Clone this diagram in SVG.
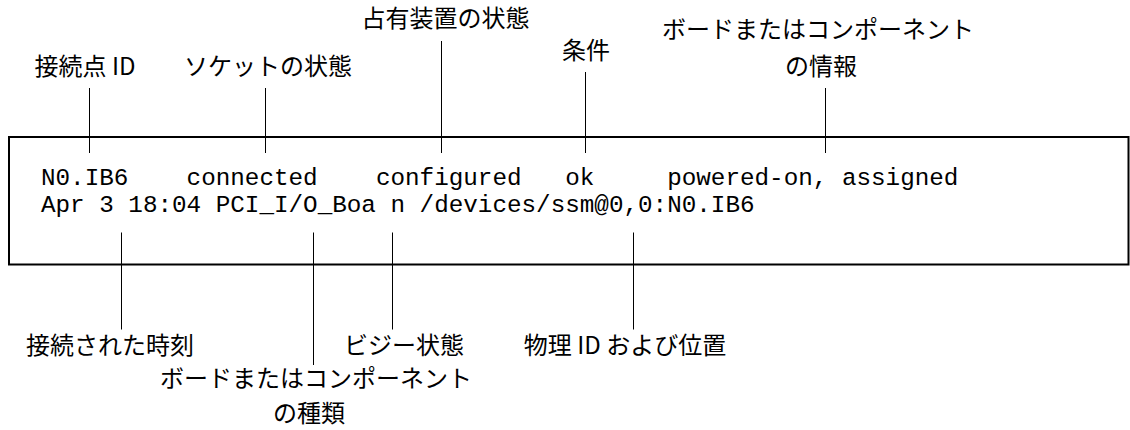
<svg xmlns="http://www.w3.org/2000/svg" width="1130" height="430" viewBox="0 0 1130 430">
<style>
.lbl{font-family:"Noto Sans CJK JP","Liberation Sans",sans-serif;font-size:24px;fill:#000;text-anchor:middle}
.mono{font-family:"Liberation Mono","Courier New",monospace;font-size:24.28px;fill:#000;white-space:pre}
.ln{stroke:#000;stroke-width:1;fill:none}
.box{stroke:#000;stroke-width:2;fill:#fff}
</style>
<rect width="1130" height="430" fill="#fff"/>
<g id="output-box">
<rect class="box" x="9" y="137" width="1119.5" height="127.5"/>
<text class="mono" x="41" y="185" xml:space="preserve">N0.IB6    connected    configured   ok     powered-on, assigned</text>
<text class="mono" x="41" y="212" xml:space="preserve">Apr 3 18:04 PCI_I/O_Boa n /devices/ssm@0,0:N0.IB6</text>
</g>
<g id="connectors">
<line class="ln" x1="89.5" y1="88" x2="89.5" y2="153"/>
<line class="ln" x1="265.5" y1="88" x2="265.5" y2="153"/>
<line class="ln" x1="441.5" y1="41" x2="441.5" y2="153"/>
<line class="ln" x1="585.5" y1="72" x2="585.5" y2="153"/>
<line class="ln" x1="825.5" y1="88" x2="825.5" y2="153"/>
<line class="ln" x1="121.5" y1="232.5" x2="121.5" y2="329.5"/>
<line class="ln" x1="313.5" y1="232.5" x2="313.5" y2="365"/>
<line class="ln" x1="392.5" y1="232.5" x2="392.5" y2="329.5"/>
<line class="ln" x1="633.5" y1="232.5" x2="633.5" y2="329.5"/>
</g>
<g id="label-ap-id"><text class="lbl" x="85" y="75">接続点 ID</text></g>
<g id="label-receptacle"><text class="lbl" x="268" y="75">ソケットの状態</text></g>
<g id="label-occupant"><text class="lbl" x="445.5" y="27">占有装置の状態</text></g>
<g id="label-condition"><text class="lbl" x="586" y="59">条件</text></g>
<g id="label-info"><text class="lbl" x="818" y="38">ボードまたはコンポーネント<tspan x="821" y="75">の情報</tspan></text></g>
<g id="label-time"><text class="lbl" x="110" y="354">接続された時刻</text></g>
<g id="label-type"><text class="lbl" x="316" y="387">ボードまたはコンポーネント<tspan x="309" y="422">の種類</tspan></text></g>
<g id="label-busy"><text class="lbl" x="404" y="354">ビジー状態</text></g>
<g id="label-phys"><text class="lbl" x="625" y="354">物理 ID および位置</text></g>
</svg>
